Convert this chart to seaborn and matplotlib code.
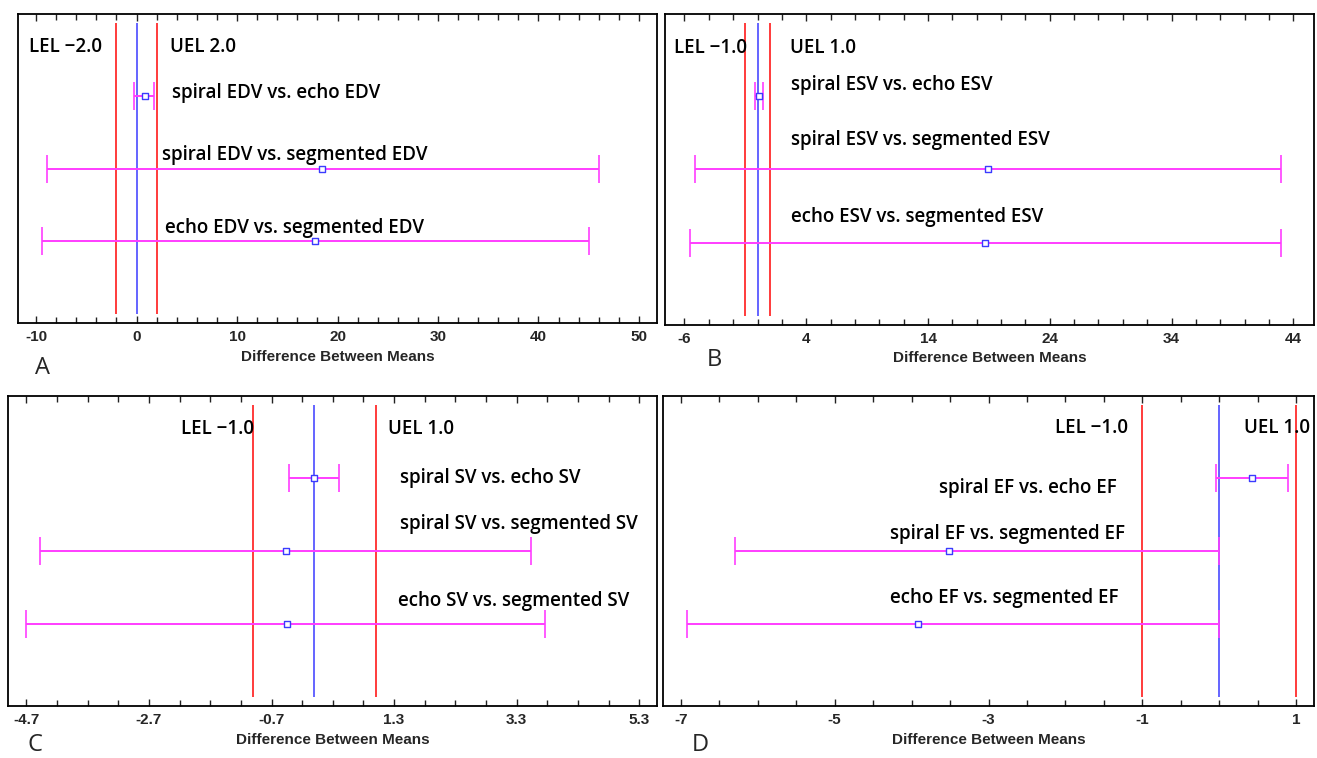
import numpy as np
import matplotlib
matplotlib.use("Agg")
import matplotlib.pyplot as plt
from matplotlib.ticker import FixedLocator
import seaborn as sns

# ---------------- data ----------------
rows = [1, 2, 3]

edv_labels = ["spiral EDV vs. echo EDV", "spiral EDV vs. segmented EDV", "echo EDV vs. segmented EDV"]
edv_mean = [0.8, 18.5, 17.8]
edv_lower = [-0.25, -8.9, -9.45]
edv_upper = [1.75, 46.0, 45.0]
edv_limits = [-2.0, 2.0]
edv_ticks = [-10, 0, 10, 20, 30, 40, 50]

esv_labels = ["spiral ESV vs. echo ESV", "spiral ESV vs. segmented ESV", "echo ESV vs. segmented ESV"]
esv_mean = [0.14, 18.95, 18.7]
esv_lower = [-0.2, -5.14, -5.55]
esv_upper = [0.42, 43.0, 43.0]
esv_limits = [-1.0, 1.0]
esv_ticks = [-6, 4, 14, 24, 34, 44]

sv_labels = ["spiral SV vs. echo SV", "spiral SV vs. segmented SV", "echo SV vs. segmented SV"]
sv_mean = [0.0, -0.47, -0.45]
sv_lower = [-0.42, -4.47, -4.7]
sv_upper = [0.40, 3.53, 3.77]
sv_limits = [-1.0, 1.0]
sv_ticks = [-4.7, -2.7, -0.7, 1.3, 3.3, 5.3]

ef_labels = ["spiral EF vs. echo EF", "spiral EF vs. segmented EF", "echo EF vs. segmented EF"]
ef_mean = [0.42, -3.51, -3.92]
ef_lower = [-0.05, -6.29, -6.92]
ef_upper = [0.89, 0.0, 0.0]
ef_limits = [-1.0, 1.0]
ef_ticks = [-7, -5, -3, -1, 1]

limit_names = ["LEL \u22122.0", "UEL 2.0", "LEL \u22121.0", "UEL 1.0"]
panel_letters = ["A", "B", "C", "D"]
axis_title = "Difference Between Means"

# ---------------- style ----------------
sns.set_style("white")
plt.rcParams["font.family"] = ["Open Sans", "DejaVu Sans"]

W, H = 1317, 758
fig = plt.figure(figsize=(W / 100, H / 100), dpi=100)

def frac(l, t, r, b):
    return [l / W, 1 - b / H, (r - l) / W, (b - t) / H]

narrow = ["Liberation Sans", "DejaVu Sans"]

panels = [
    dict(box=frac(18, 14, 657, 323), xlim=(-11.8, 51.8), ticks=edv_ticks, minor=np.arange(-10, 51, 2),
         labels=edv_labels, mean=edv_mean, lower=edv_lower, upper=edv_upper, limits=edv_limits,
         lname=(limit_names[0], limit_names[1]),
         lpos=[(-10.7, 0.33), (3.3, 0.33)], tpos=[(3.5, 0.96), (2.5, 1.82), (2.8, 2.82)],
         letter=(42, 368)),
    dict(box=frac(665, 14, 1314, 325), xlim=(-7.6, 45.7), ticks=esv_ticks, minor=np.arange(-6, 45, 2),
         labels=esv_labels, mean=esv_mean, lower=esv_lower, upper=esv_upper, limits=esv_limits,
         lname=(limit_names[2], limit_names[3]),
         lpos=[(-6.86, 0.34), (2.63, 0.34)], tpos=[(2.73, 0.84), (2.73, 1.6), (2.73, 2.65)],
         letter=(714, 360)),
    dict(box=frac(8, 396, 657, 706), xlim=(-5.0, 5.59), ticks=sv_ticks, minor=np.arange(-4.7, 5.31, 0.5),
         labels=sv_labels, mean=sv_mean, lower=sv_lower, upper=sv_upper, limits=sv_limits,
         lname=(limit_names[2], limit_names[3]),
         lpos=[(-2.17, 0.33), (1.2, 0.33)], tpos=[(1.39, 0.99), (1.39, 1.63), (1.37, 2.69)],
         letter=(35, 745)),
    dict(box=frac(663, 396, 1314, 706), xlim=(-7.23, 1.23), ticks=ef_ticks, minor=np.arange(-7, 1.01, 0.5),
         labels=ef_labels, mean=ef_mean, lower=ef_lower, upper=ef_upper, limits=ef_limits,
         lname=(limit_names[2], limit_names[3]),
         lpos=[(-2.14, 0.31), (0.32, 0.31)], tpos=[(-3.64, 1.13), (-4.28, 1.76), (-4.28, 2.65)],
         letter=(700, 745)),
]

magenta = "#ff3dff"
red = "#ff3b3b"
blue = "#3b3bff"

for i, p in enumerate(panels):
    ax = fig.add_axes(p["box"])
    mean = np.array(p["mean"])
    lo = np.array(p["lower"])
    hi = np.array(p["upper"])

    ax.vlines(p["limits"], 0.0, 4.0, color=red, lw=1.4, zorder=1)
    ax.vlines([0], 0.0, 4.0, color=blue, lw=1.1, zorder=1)

    ax.errorbar(mean, rows, xerr=[mean - lo, hi - mean], fmt="none", ecolor=magenta,
                elinewidth=1.4, capsize=10, capthick=1.2, zorder=2)
    sns.scatterplot(x=mean, y=rows, ax=ax, marker="s", s=14, facecolor="white",
                    edgecolor=blue, linewidth=1.0, zorder=3, legend=False)

    ax.set_xlim(*p["xlim"])
    ax.set_ylim(4.13, -0.13)
    ax.set_yticks([])
    ax.set_ylabel("")
    ax.xaxis.set_major_locator(FixedLocator(p["ticks"]))
    ax.xaxis.set_minor_locator(FixedLocator(p["minor"]))
    ax.set_xticklabels([f"{t:g}" for t in p["ticks"]], fontweight="bold", fontsize=11,
                       family=narrow)
    ax.tick_params(axis="x", which="both", direction="in", top=True, bottom=True,
                   width=1.0, color="#222222", pad=5)
    ax.tick_params(axis="x", which="major", length=5)
    ax.tick_params(axis="x", which="minor", length=4)
    ax.set_xlabel(axis_title, fontsize=11, fontweight="bold", family=narrow, labelpad=4)
    for s in ax.spines.values():
        s.set_visible(True)
        s.set_color("black")
        s.set_linewidth(1.3)

    tkw = dict(fontsize=13.5, fontweight="semibold", va="center", ha="left", color="black")
    ax.text(p["lpos"][0][0], p["lpos"][0][1], p["lname"][0], **tkw)
    ax.text(p["lpos"][1][0], p["lpos"][1][1], p["lname"][1], **tkw)
    for (tx, ty), lab in zip(p["tpos"], p["labels"]):
        ax.text(tx, ty, lab, **tkw)

    lx, ly = p["letter"]
    fig.text(lx / W, 1 - ly / H, panel_letters[i], fontsize=17, ha="center", va="center")

fig.savefig("out.png", dpi=100)
